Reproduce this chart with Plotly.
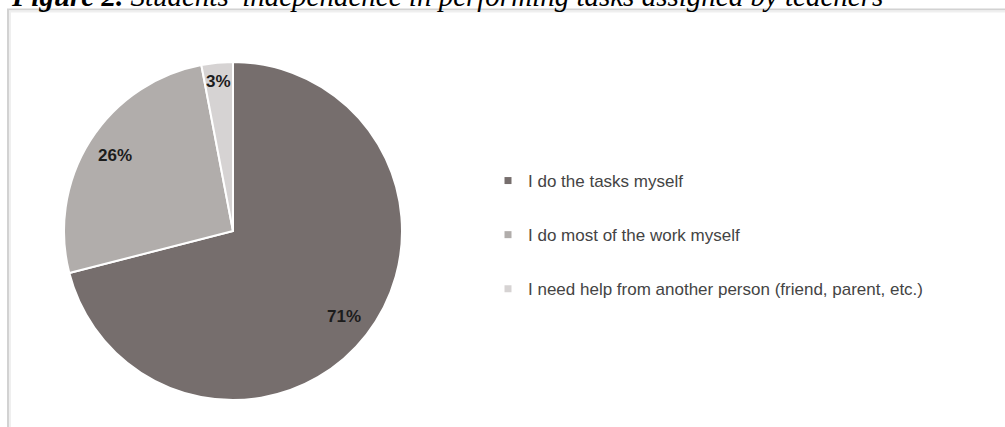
import math
import plotly.graph_objects as go

# Survey responses: how students complete the tasks set by teachers
categories = [
    "I do the tasks myself",
    "I do most of the work myself",
    "I need help from another person (friend, parent, etc.)",
]
shares = [71, 26, 3]

slice_colors = ["#766e6d", "#b1adab", "#d6d3d3"]
label_radius = [0.83, 0.83, 0.89]   # fraction of the pie radius for each % label

W, H = 1005, 427
CX, CY, R = 233, 231, 169           # pie centre / radius in pixels (from top-left)

SANS = "Liberation Sans, Arial, sans-serif"

fig = go.Figure()

fig.add_trace(go.Pie(
    labels=categories,
    values=shares,
    sort=False,
    direction="clockwise",
    rotation=0,
    marker=dict(colors=slice_colors, line=dict(color="white", width=2)),
    textinfo="none",
    hoverinfo="label+percent",
    showlegend=False,
    domain=dict(x=[(CX - R) / W, (CX + R) / W],
                y=[1 - (CY + R) / H, 1 - (CY - R) / H]),
))

# legend entries: one small square per category, spaced apart by group gap
for i, (name, col) in enumerate(zip(categories, slice_colors)):
    fig.add_trace(go.Scatter(
        x=[None], y=[None], mode="markers", name=name,
        legendgroup=f"g{i}",
        marker=dict(symbol="square", size=7, color=col),
        showlegend=True,
    ))

# percentage labels placed along each slice bisector
total = sum(shares)
annotations = []
cum = 0
for v, k in zip(shares, label_radius):
    mid = (cum + v / 2) / total
    cum += v
    theta = 2 * math.pi * mid
    px = CX + k * R * math.sin(theta)
    py = CY - k * R * math.cos(theta)
    annotations.append(dict(
        x=px / W, y=1 - py / H, xref="paper", yref="paper",
        xanchor="center", yanchor="middle",
        text=f"<b>{v}%</b>", showarrow=False,
        font=dict(family=SANS, size=17, color="#1c1c1c"),
    ))

# figure caption above the framed chart
annotations.append(dict(
    x=9 / W, y=1 - 14 / H, xref="paper", yref="paper",
    xanchor="left", yanchor="bottom", showarrow=False,
    text="<b><i>Figure 2.</i></b><i> Students' independence in performing tasks assigned by teachers</i>",
    font=dict(family="Liberation Serif, Times New Roman, serif", size=29, color="#000000"),
))

fig.update_layout(
    width=W, height=H,
    margin=dict(l=0, r=0, t=0, b=0),
    paper_bgcolor="white", plot_bgcolor="white",
    xaxis=dict(visible=False), yaxis=dict(visible=False),
    annotations=annotations,
    showlegend=True,
    legend=dict(
        x=488 / W, y=1 - 163 / H, xanchor="left", yanchor="top",
        font=dict(family=SANS, size=17, color="#444444"),
        tracegroupgap=29,
        bgcolor="rgba(0,0,0,0)",
    ),
    shapes=[
        dict(type="rect", xref="paper", yref="paper",
             x0=8 / W, y0=-0.1, x1=1.1, y1=1 - 9.5 / H,
             line=dict(color="#d2d2d2", width=2), layer="below"),
        dict(type="rect", xref="paper", yref="paper",
             x0=10 / W, y0=-0.1, x1=1.1, y1=1 - 11.5 / H,
             line=dict(color="#efefef", width=2), layer="below"),
    ],
)

fig.write_html("out.html")
